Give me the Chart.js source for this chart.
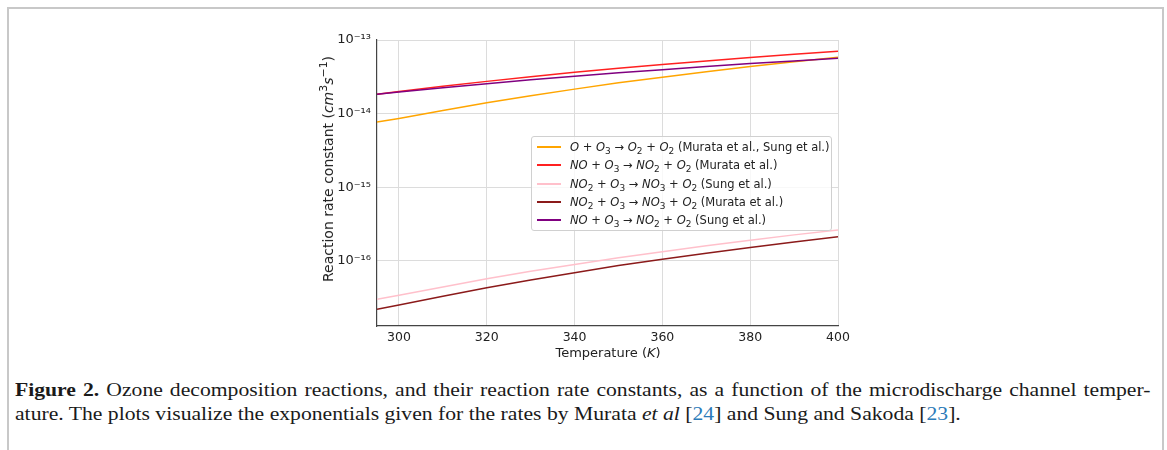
<!DOCTYPE html>
<html>
<head>
<meta charset="utf-8">
<script src="https://cdn.jsdelivr.net/npm/chart.js@4.4.1/dist/chart.umd.min.js"></script>
<style>
  body { margin: 0; width: 1167px; height: 450px; background: #fff; position: relative; overflow: hidden; font-family: "DejaVu Sans", sans-serif; color: #222; }
  #frame { position: absolute; left: 7px; top: 7px; width: 1157px; height: 470px; border: 2px solid #c8c8c8; border-bottom: none; box-sizing: border-box; }
  #wrap { position: absolute; left: 300px; top: 20px; width: 560px; height: 340px; }
  .ytitle { position: absolute; left: 328px; top: 169px; transform: translate(-50%, -50%) rotate(-90deg); white-space: nowrap; font-size: 14px; color: #222; }
  .xtitle { position: absolute; left: 608px; top: 352px; transform: translate(-50%, -50%); white-space: nowrap; font-size: 13px; color: #222; }
  sup, sub { font-size: 78%; line-height: 0; }
  .legend { position: absolute; left: 531px; top: 136px; width: 301px; height: 95px; box-sizing: border-box; background: rgba(255,255,255,0.8); border: 1px solid #d0d0d0; border-radius: 3px; font-size: 11.5px; color: #222; }
  .row { position: absolute; left: 0; height: 18px; line-height: 18px; white-space: nowrap; }
  .row .h { position: absolute; left: 5px; top: 8px; width: 24px; height: 1.6px; }
  .row .t { position: absolute; left: 38px; top: 0; }
  .caption { position: absolute; left: 15px; font-family: "Liberation Serif", serif; font-size: 19px; color: #1a1a1a; white-space: nowrap; transform-origin: 0 0; transform: scaleX(1.14); }
  .caption.j { width: 996px; white-space: normal; text-align: justify; text-align-last: justify; }
  .cite { color: #2b7bb9; }
</style>
</head>
<body>
<div id="frame"></div>
<div id="wrap"><canvas id="c"></canvas></div>

<div class="ytitle">Reaction rate constant (<i>cm</i><sup>3</sup><i>s</i><sup>−1</sup>)</div>
<div class="xtitle">Temperature (<i>K</i>)</div>

<div class="legend">
  <div class="row" style="top:1px"><span class="h" style="background:#ffa500"></span><span class="t"><i>O</i> + <i>O</i><sub>3</sub> → <i>O</i><sub>2</sub> + <i>O</i><sub>2</sub> (Murata et al., Sung et al.)</span></div>
  <div class="row" style="top:19px"><span class="h" style="background:#ff2020"></span><span class="t"><i>NO</i> + <i>O</i><sub>3</sub> → <i>NO</i><sub>2</sub> + <i>O</i><sub>2</sub> (Murata et al.)</span></div>
  <div class="row" style="top:38px"><span class="h" style="background:#ffc0cb"></span><span class="t"><i>NO</i><sub>2</sub> + <i>O</i><sub>3</sub> → <i>NO</i><sub>3</sub> + <i>O</i><sub>2</sub> (Sung et al.)</span></div>
  <div class="row" style="top:56px"><span class="h" style="background:#8b1a1a"></span><span class="t"><i>NO</i><sub>2</sub> + <i>O</i><sub>3</sub> → <i>NO</i><sub>3</sub> + <i>O</i><sub>2</sub> (Murata et al.)</span></div>
  <div class="row" style="top:74px"><span class="h" style="background:#800080"></span><span class="t"><i>NO</i> + <i>O</i><sub>3</sub> → <i>NO</i><sub>2</sub> + <i>O</i><sub>2</sub> (Sung et al.)</span></div>
</div>

<div class="caption j" style="top:379px"><b>Figure 2.</b> Ozone decomposition reactions, and their reaction rate constants, as a function of the microdischarge channel temper-</div>
<div class="caption" style="top:403px">ature. The plots visualize the exponentials given for the rates by Murata <i>et al</i> [<span class="cite">24</span>] and Sung and Sakoda [<span class="cite">23</span>].</div>

<script>
// temperature samples (K)
const temps = [295, 300, 310, 320, 330, 340, 350, 360, 370, 380, 390, 400];

// rate constants (cm^3 s^-1)
const oO3 = [7.7e-15, 8.6e-15, 1.1e-14, 1.4e-14, 1.75e-14, 2.15e-14, 2.62e-14, 3.12e-14, 3.7e-14, 4.35e-14, 5.05e-14, 5.85e-14];
const noO3Murata = [1.83e-14, 1.99e-14, 2.35e-14, 2.74e-14, 3.17e-14, 3.64e-14, 4.13e-14, 4.65e-14, 5.2e-14, 5.78e-14, 6.4e-14, 7.05e-14];
const no2O3Sung = [3.0e-17, 3.4e-17, 4.4e-17, 5.7e-17, 7.2e-17, 8.9e-17, 1.1e-16, 1.33e-16, 1.6e-16, 1.9e-16, 2.25e-16, 2.63e-16];
const no2O3Murata = [2.2e-17, 2.5e-17, 3.3e-17, 4.3e-17, 5.5e-17, 6.9e-17, 8.6e-17, 1.05e-16, 1.27e-16, 1.52e-16, 1.8e-16, 2.12e-16];
const noO3Sung = [1.83e-14, 1.96e-14, 2.25e-14, 2.55e-14, 2.88e-14, 3.22e-14, 3.58e-14, 3.95e-14, 4.35e-14, 4.78e-14, 5.2e-14, 5.65e-14];

const xTicks = [300, 320, 340, 360, 380, 400];
const yTicks = [1e-16, 1e-15, 1e-14, 1e-13];
const yTickLabels = ['10⁻¹⁶', '10⁻¹⁵', '10⁻¹⁴', '10⁻¹³'];

const pts = arr => arr.map((v, i) => ({ x: temps[i], y: v }));
const line = (data, color, order) => ({
  data: pts(data), borderColor: color, borderWidth: 1.5,
  pointRadius: 0, tension: 0, fill: false, order
});

new Chart(document.getElementById('c'), {
  type: 'line',
  data: {
    datasets: [
      line(oO3, '#ffa500', 5),
      line(noO3Murata, '#ff2020', 4),
      line(no2O3Sung, '#ffc0cb', 3),
      line(no2O3Murata, '#8b1a1a', 2),
      line(noO3Sung, '#800080', 1),
    ]
  },
  options: {
    responsive: true,
    maintainAspectRatio: false,
    animation: false,
    layout: { padding: { left: 0, top: 20, right: 22, bottom: 0 } },
    plugins: { legend: { display: false }, tooltip: { enabled: false } },
    scales: {
      x: {
        type: 'linear', min: 295, max: 400,
        afterBuildTicks: s => { s.ticks = xTicks.map(v => ({ value: v })); },
        afterFit: s => { s.height = 34; },
        grid: { color: '#dcdcdc', lineWidth: 1, drawTicks: false },
        border: { color: '#444', width: 1.2 },
        ticks: { font: { family: 'DejaVu Sans', size: 12.5 }, color: '#222', padding: 4, maxRotation: 0 }
      },
      y: {
        type: 'logarithmic', min: 1.3e-17, max: 1e-13,
        afterBuildTicks: s => { s.ticks = yTicks.map(v => ({ value: v })); },
        afterFit: s => { s.width = 77; },
        grid: { color: '#dcdcdc', lineWidth: 1, drawTicks: false },
        border: { color: '#444', width: 1.2 },
        ticks: {
          font: { family: 'DejaVu Sans', size: 13 }, color: '#222', padding: 6,
          callback: (v, i) => yTickLabels[i]
        }
      }
    }
  }
});
</script>
</body>
</html>
